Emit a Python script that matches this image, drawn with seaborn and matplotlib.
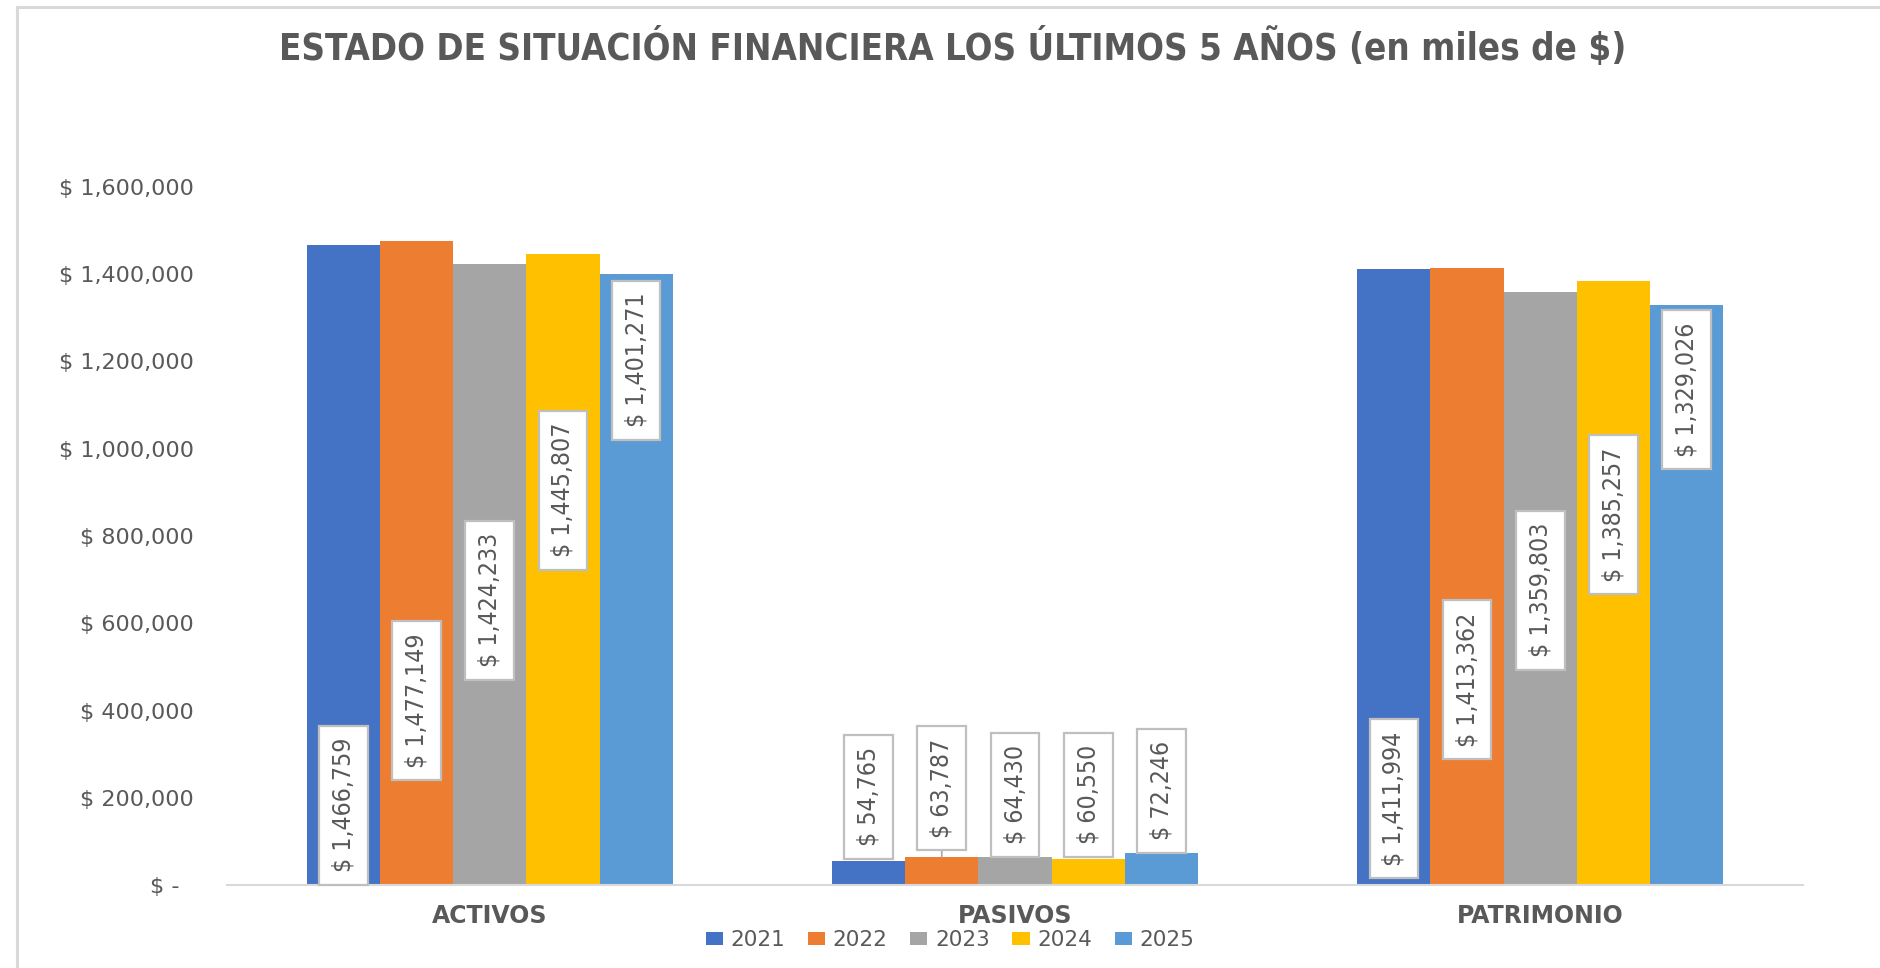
import numpy as np
import pandas as pd
import matplotlib
matplotlib.use("Agg")
import matplotlib.pyplot as plt
import seaborn as sns
from matplotlib import font_manager as fm
from matplotlib.lines import Line2D
from matplotlib.patches import Patch
from matplotlib.ticker import FuncFormatter, FixedLocator

# ---------------- data ----------------
categories = ["ACTIVOS", "PASIVOS", "PATRIMONIO"]
years = ["2021", "2022", "2023", "2024", "2025"]
v2021 = [1466759, 54765, 1411994]
v2022 = [1477149, 63787, 1413362]
v2023 = [1424233, 64430, 1359803]
v2024 = [1445807, 60550, 1385257]
v2025 = [1401271, 72246, 1329026]
colors = ["#4472C4", "#ED7D31", "#A5A5A5", "#FFC000", "#5B9BD5"]
yticks = [0, 200000, 400000, 600000, 800000, 1000000, 1200000, 1400000, 1600000]
title = "ESTADO DE SITUACIÓN FINANCIERA LOS ÚLTIMOS 5 AÑOS (en miles de $)"

# label box centre heights (data units), per year across categories
lab2021 = [183000, 202000, 198000]
lab2022 = [423000, 222000, 470000]
lab2023 = [653000, 207000, 676000]
lab2024 = [905000, 207000, 849000]
lab2025 = [1203000, 216000, 1136000]
leader2022 = [False, True, False]

values = [v2021, v2022, v2023, v2024, v2025]
labpos = [lab2021, lab2022, lab2023, lab2024, lab2025]

df = pd.DataFrame({
    "cat": [c for _ in years for c in categories],
    "year": [y for y in years for _ in categories],
    "val": [v for vals in values for v in vals],
})

# ---------------- style ----------------
sns.set_theme(style="white")
plt.rcParams["font.family"] = ["DejaVu Sans"]
GRAY = "#595959"

def find_fp(bold=False):
    for f in fm.fontManager.ttflist:
        if f.name == "Liberation Sans Narrow" and ((f.weight in ("bold", 700)) == bold) and f.style == "normal":
            return fm.FontProperties(fname=f.fname)
    for f in fm.fontManager.ttflist:
        base = f.fname.split("/")[-1]
        if bold and base == "DejaVuSansCondensed-Bold.ttf":
            return fm.FontProperties(fname=f.fname)
        if (not bold) and base == "DejaVuSansCondensed.ttf":
            return fm.FontProperties(fname=f.fname)
    return fm.FontProperties(family="DejaVu Sans", weight="bold" if bold else "normal")

fp_lab = find_fp(False)
fp_title = find_fp(True)

fig = plt.figure(figsize=(18.8, 9.68), dpi=100)
fig.patch.set_facecolor("white")
ax = fig.add_axes([227 / 1880, 1 - 885 / 968, (1803 - 227) / 1880, (885 - 187) / 968])

sns.barplot(data=df, x="cat", y="val", hue="year", order=categories, hue_order=years,
            palette=colors, saturation=1, width=0.697, ax=ax, legend=False, errorbar=None,
            linewidth=0)

ax.set_xlim(-0.5, 2.5)
ax.set_ylim(0, 1600000)
ax.set_xlabel("")
ax.set_ylabel("")
for s in ["top", "right", "left"]:
    ax.spines[s].set_visible(False)
ax.spines["bottom"].set_color("#d9d9d9")
ax.spines["bottom"].set_linewidth(1.5)

ax.yaxis.set_major_locator(FixedLocator(yticks))
ax.yaxis.set_major_formatter(FuncFormatter(lambda v, p: "$ -  " if v == 0 else "$ {:,.0f}".format(v)))
ax.tick_params(axis="y", length=0, pad=24, labelsize=16, labelcolor=GRAY)
ax.set_xticks([0, 1, 2])
ax.set_xticklabels(categories, fontsize=17, fontweight="bold", color=GRAY)
ax.tick_params(axis="x", which="major", length=0, pad=14)
ax.set_xticks([-0.5, 0.5, 1.5, 2.5], minor=True)
ax.tick_params(axis="x", which="minor", length=5, width=1.5, color="#d9d9d9", direction="out")
ax.grid(False)

# ---------------- label sizing ----------------
renderer = fig.canvas.get_renderer()
def fit_size(s, target, fp, base=20.0):
    p = fp.copy()
    p.set_size(base)
    t = fig.text(0, 0, s, fontproperties=p)
    w = t.get_window_extent(renderer).width
    t.remove()
    return base * target / w

lab_size = fit_size("$ 1,466,759", 134, fp_lab)
fp_l = fp_lab.copy()
fp_l.set_size(lab_size)

for yi, cont in enumerate(ax.containers):
    for ci, bar in enumerate(cont):
        xc = bar.get_x() + bar.get_width() / 2
        val = values[yi][ci]
        txt = "$ {:,.0f}".format(val)
        arrow = None
        if yi == 1 and leader2022[ci]:
            arrow = dict(arrowstyle="-", color="#a6a6a6", lw=1.2, shrinkA=0, shrinkB=0)
        ax.annotate(txt, xy=(xc, bar.get_height()), xytext=(xc, labpos[yi][ci]),
                    textcoords="data", rotation=90, ha="center", va="center",
                    fontproperties=fp_l, color=GRAY,
                    bbox=dict(boxstyle="square,pad=0.5", fc="white", ec="#bfbfbf", lw=1.6),
                    arrowprops=arrow, annotation_clip=False)

# ---------------- title ----------------
t_size = fit_size(title, 1348, fp_title)
fp_t = fp_title.copy()
fp_t.set_size(t_size)
fig.text(953 / 1880, 1 - 48 / 968, title, ha="center", va="center", fontproperties=fp_t, color=GRAY)

# ---------------- legend ----------------
handles = [Patch(facecolor=c, edgecolor="none") for c in colors]
fig.legend(handles, years, loc="center", bbox_to_anchor=(950 / 1880, 1 - 940 / 968), ncol=5,
           frameon=False, fontsize=15.5, handlelength=0.8, handleheight=0.6,
           handletextpad=0.35, columnspacing=1.05, labelcolor=GRAY, borderpad=0, borderaxespad=0)

# ---------------- chart border ----------------
fig.add_artist(Line2D([17 / 1880, 17 / 1880], [0, 1 - 7 / 968], transform=fig.transFigure,
                      color="#d9d9d9", lw=2.2))
fig.add_artist(Line2D([17 / 1880, 1], [1 - 7 / 968, 1 - 7 / 968], transform=fig.transFigure,
                      color="#d9d9d9", lw=2.2))

fig.savefig("out.png", dpi=100, facecolor="white")
